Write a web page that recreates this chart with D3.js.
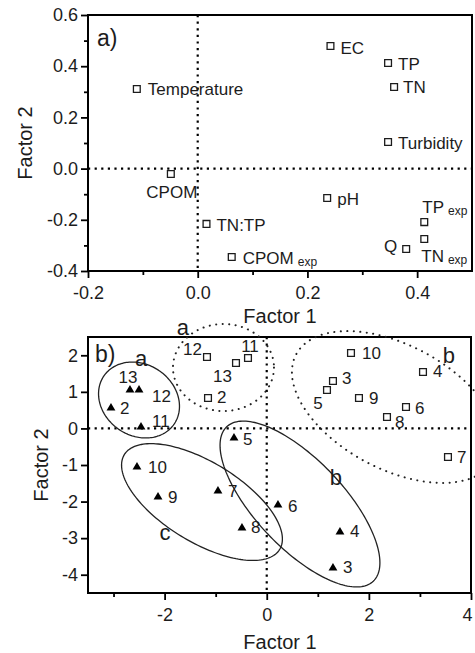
<!DOCTYPE html>
<html>
<head>
<meta charset="utf-8">
<script src="https://cdn.jsdelivr.net/npm/d3@7"></script>
<style>
body { margin:0; background:#fff; }
svg { display:block; font-family:"Liberation Sans", Arial, Helvetica, sans-serif; }
</style>
</head>
<body>
<svg id="chart" width="475" height="653"></svg>
<script>
// ---- panel a) : loadings of the variables
var varNames = ["Temperature","EC","TP","TN","Turbidity","CPOM","TN:TP","CPOM","pH","TP","TN","Q"];
var varSubs  = ["","","","","","","","exp","","exp","exp",""];
var varF1    = [-0.111, 0.242, 0.347, 0.358, 0.347, -0.049, 0.016, 0.062, 0.236, 0.413, 0.413, 0.380];
var varF2    = [0.311, 0.479, 0.4125, 0.319, 0.104, -0.021, -0.216, -0.345, -0.115, -0.209, -0.275, -0.314];

// ---- panel b) : scores of the sites (open squares / filled triangles)
var sites   = [2, 3, 4, 5, 6, 7, 8, 9, 10, 11, 12, 13];
var sqF1    = [-1.150, 1.297, 3.060, 1.180, 2.727, 3.549, 2.355, 1.806, 1.650, -0.367, -1.170, -0.602];
var sqF2    = [0.831, 1.296, 1.542, 1.050, 0.585, -0.782, 0.312, 0.831, 2.062, 1.925, 1.952, 1.788];
var triF1   = [-3.050, 1.297, 1.434, -0.641, 0.220, -0.955, -0.485, -2.129, -2.541, -2.462, -2.501, -2.678];
var triF2   = [0.558, -3.817, -2.833, -0.263, -2.095, -1.712, -2.724, -1.876, -1.056, 0.038, 1.050, 1.050];

// groups drawn as ellipses: centre, two half-axes (factor units)
var grpNames  = ["a", "a", "b", "b", "c"];
var grpDotted = [false, true, true, false, false];
var grpCx     = [-2.501, -0.847, 2.511, 0.651, -1.268];
var grpCy     = [0.777, 1.665, 0.585, -2.067, -2.013];
var grpU      = [[0.687,-0.659], [0.989,0], [1.936,-1.438], [1.435,-2.111], [1.521,-1.296]];
var grpV      = [[-0.395,-0.802], [0,-1.19], [-0.570,-1.497], [-0.625,-0.828], [-0.408,-0.933]];
var grpLabF1  = [-2.462, -1.640, 3.569, 1.356, -1.992];
var grpLabF2  = [1.706, 2.554, 1.788, -1.548, -3.052];

// tick values
var aXmajor = [-0.2, 0, 0.2, 0.4], aXminor = [-0.1, 0.1, 0.3];
var aYmajor = [-0.4, -0.2, 0, 0.2, 0.4, 0.6], aYminor = [-0.3, -0.1, 0.1, 0.3, 0.5];
var bXmajor = [-2, 0, 2, 4], bXminor = [-3, -1, 1, 3];
var bYmajor = [-4, -3, -2, -1, 0, 1, 2];

var svg = d3.select("#chart");
var ink = "#1c1c1c";

// label offsets (px) : dx, dy, anchor
var varLab = {
  "Temperature":[11,6,"start"], "EC":[10,8,"start"], "TP":[10,7,"start"], "TN":[9,6,"start"],
  "Turbidity":[10,7,"start"], "CPOM":[1,24,"middle"], "TN:TP":[10,7,"start"], "CPOMexp":[11,7,"start"],
  "pH":[10,7,"start"], "TPexp":[-2,-9,"start"], "TNexp":[-3,23,"start"], "Q":[-9,3,"end"]
};
var sqLab = {2:[9,5,"start"],3:[9,3,"start"],4:[10,5,"start"],5:[-9,19,"middle"],6:[9,7,"start"],
  7:[9,6,"start"],8:[8,11,"start"],9:[10,6,"start"],10:[11,6,"start"],11:[2,-6,"middle"],
  12:[-5,-2,"end"],13:[-4,19,"end"]};
var triLab = {2:[9,6,"start"],3:[10,5,"start"],4:[10,5,"start"],5:[9,7,"start"],6:[10,7,"start"],
  7:[10,6,"start"],8:[9,5,"start"],9:[10,6,"start"],10:[11,6,"start"],11:[11,0,"start"],
  12:[13,12,"start"],13:[-2,-7,"middle"]};

function fmtMinus(f) { return function(d){ return f(d).replace("\u2212","-"); }; }

function frame(g, x, y, xMajor, xMinor, yMajor, yMinor, fmt) {
  var w = x.range()[1] - x.range()[0], h = y.range()[0] - y.range()[1];
  var xa = g.append("g").attr("transform","translate(0,"+h+")")
    .call(d3.axisBottom(x).tickValues(xMajor).tickSize(7).tickPadding(8).tickFormat(fmt));
  var xm = g.append("g").attr("transform","translate(0,"+h+")")
    .call(d3.axisBottom(x).tickValues(xMinor).tickSize(4).tickFormat(""));
  var ya = g.append("g")
    .call(d3.axisLeft(y).tickValues(yMajor).tickSize(7).tickPadding(3).tickFormat(fmt));
  var all = [xa, xm, ya];
  if (yMinor) all.push(g.append("g").call(d3.axisLeft(y).tickValues(yMinor).tickSize(4).tickFormat("")));
  all.forEach(function(a){
    a.select(".domain").remove();
    a.selectAll("line").attr("stroke","#000").attr("stroke-width",1.8);
    a.selectAll("text").attr("fill",ink).style("font-size","18px").style("font-family","inherit");
  });
  // the last label at the right border would be cut by the page edge
  xa.selectAll(".tick").filter(function(d){ return x(d) >= w - 1; }).select("text").attr("dx", -4);
  g.append("rect").attr("x",0).attr("y",0).attr("width",w).attr("height",h)
    .attr("fill","none").attr("stroke","#000").attr("stroke-width",2);
}

function zeroLines(g, x, y) {
  g.append("line").attr("x1",x(0)).attr("x2",x(0)).attr("y1",y.range()[1]).attr("y2",y.range()[0]);
  g.append("line").attr("x1",x.range()[0]).attr("x2",x.range()[1]).attr("y1",y(0)).attr("y2",y(0));
  g.selectAll("line").attr("stroke","#000").attr("stroke-width",2.2).attr("stroke-dasharray","2.2,4.4");
}

// ============ panel a ============
var ga = svg.append("g").attr("transform","translate(88,15)");
var xA = d3.scaleLinear().domain([-0.2, 0.5]).range([0, 384]);
var yA = d3.scaleLinear().domain([-0.4, 0.6]).range([256, 0]);
zeroLines(ga.append("g"), xA, yA);
frame(ga, xA, yA, aXmajor, aXminor, aYmajor, aYminor, fmtMinus(d3.format(".1f")));

var sq = d3.symbol().type(d3.symbolSquare).size(46);
varNames.forEach(function(n, i) {
  var cx = xA(varF1[i]), cy = yA(varF2[i]);
  ga.append("path").attr("d", sq).attr("transform","translate("+cx+","+cy+")")
    .attr("fill","#fff").attr("stroke",ink).attr("stroke-width",1.3);
  var o = varLab[n + varSubs[i]];
  var t = ga.append("text").attr("x", cx + o[0]).attr("y", cy + o[1])
    .attr("text-anchor", o[2]).attr("fill", ink).style("font-size","17px").text(n);
  if (varSubs[i]) t.append("tspan").attr("dx",4).attr("dy",2).style("font-size","12px").text(varSubs[i]);
});
ga.append("text").attr("x",9).attr("y",31).attr("fill",ink).style("font-size","23px").text("a)");
ga.append("text").attr("x",192).attr("y",308).attr("text-anchor","middle").attr("fill",ink)
  .style("font-size","20px").text("Factor 1");
ga.append("text").attr("transform","translate(-56,128) rotate(-90)").attr("text-anchor","middle")
  .attr("fill",ink).style("font-size","20px").text("Factor 2");

// ============ panel b ============
var gb = svg.append("g").attr("transform","translate(88,337)");
var xB = d3.scaleLinear().domain([-3.5, 4]).range([0, 383]);
var yB = d3.scaleLinear().domain([-4.5, 2.5]).range([256, 0]);
zeroLines(gb.append("g"), xB, yB);
frame(gb, xB, yB, bXmajor, bXminor, bYmajor, null, fmtMinus(d3.format("d")));

// ellipses
var tt = d3.range(0, 2 * Math.PI, Math.PI / 90);
var ell = d3.line().curve(d3.curveLinearClosed);
grpNames.forEach(function(n, i) {
  var pts = tt.map(function(t) {
    var fx = grpCx[i] + grpU[i][0] * Math.cos(t) + grpV[i][0] * Math.sin(t);
    var fy = grpCy[i] + grpU[i][1] * Math.cos(t) + grpV[i][1] * Math.sin(t);
    return [xB(fx), yB(fy)];
  });
  var p = gb.append("path").attr("d", ell(pts)).attr("fill","none").attr("stroke","#222");
  if (grpDotted[i]) p.attr("stroke-width",2).attr("stroke-dasharray","0.1,6.4").attr("stroke-linecap","round");
  else p.attr("stroke-width",1.3);
  gb.append("text").attr("x", xB(grpLabF1[i])).attr("y", yB(grpLabF2[i])).attr("text-anchor","middle")
    .attr("fill",ink).style("font-size","22px").text(n);
});

var tri = d3.symbol().type(d3.symbolTriangle).size(34);
sites.forEach(function(s, i) {
  var cx = xB(sqF1[i]), cy = yB(sqF2[i]);
  gb.append("path").attr("d", sq).attr("transform","translate("+cx+","+cy+")")
    .attr("fill","#fff").attr("stroke",ink).attr("stroke-width",1.3);
  var o = sqLab[s];
  gb.append("text").attr("x", cx + o[0]).attr("y", cy + o[1]).attr("text-anchor", o[2])
    .attr("fill",ink).style("font-size","17px").text(s);

  cx = xB(triF1[i]); cy = yB(triF2[i]);
  gb.append("path").attr("d", tri).attr("transform","translate("+cx+","+cy+")").attr("fill","#000");
  o = triLab[s];
  gb.append("text").attr("x", cx + o[0]).attr("y", cy + o[1]).attr("text-anchor", o[2])
    .attr("fill",ink).style("font-size","17px").text(s);
});
gb.append("text").attr("x",7).attr("y",25).attr("fill",ink).style("font-size","23px").text("b)");
gb.append("text").attr("x",192).attr("y",312).attr("text-anchor","middle").attr("fill",ink)
  .style("font-size","20px").text("Factor 1");
gb.append("text").attr("transform","translate(-40,128) rotate(-90)").attr("text-anchor","middle")
  .attr("fill",ink).style("font-size","20px").text("Factor 2");
</script>
</body>
</html>
